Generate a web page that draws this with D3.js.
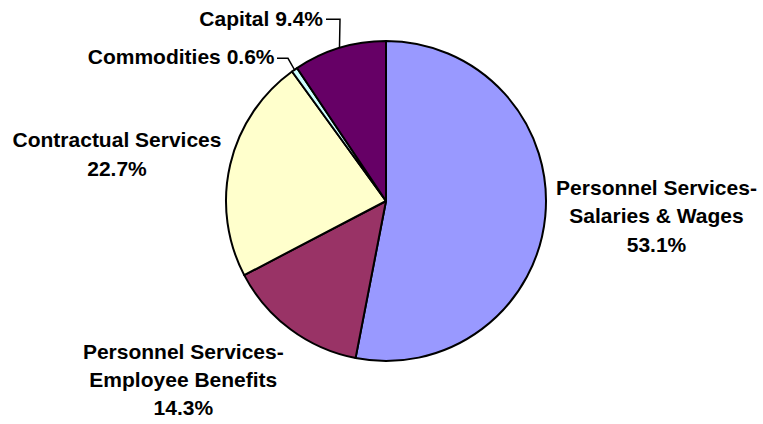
<!DOCTYPE html>
<html>
<head>
<meta charset="utf-8">
<script src="https://cdn.jsdelivr.net/npm/d3@7"></script>
<style>
  html, body { margin: 0; padding: 0; background: #fff; }
  svg { display: block; }
  text { font-family: "Liberation Sans", Arial, sans-serif; font-weight: bold; font-size: 21px; fill: #000; }
</style>
</head>
<body>
<svg id="chart" width="763" height="424"></svg>
<script>
// Budget share by expense category (percent), clockwise from 12 o'clock
const categories = [
  "Personnel Services-Salaries & Wages",
  "Personnel Services-Employee Benefits",
  "Contractual Services",
  "Commodities",
  "Capital"
];
const shares = [53.1, 14.3, 22.7, 0.6, 9.4];
const labelLines = [
  ["Personnel Services-", "Salaries & Wages", "53.1%"],
  ["Personnel Services-", "Employee Benefits", "14.3%"],
  ["Contractual Services", "22.7%"],
  ["Commodities 0.6%"],
  ["Capital 9.4%"]
];
const colors = ["#9999FF", "#993366", "#FFFFCC", "#CCFFFF", "#660066"];

const W = 763, H = 424;
const cx = 386, cy = 201, R = 160;
const lineH = 28.3;

const svg = d3.select("#chart");
const g = svg.append("g").attr("transform", `translate(${cx},${cy})`);

const pie = d3.pie().sort(null).value(d => d);
const arcs = pie(shares);
const arc = d3.arc().innerRadius(0).outerRadius(R);

g.selectAll("path.slice")
  .data(arcs)
  .join("path")
  .attr("class", "slice")
  .attr("d", arc)
  .attr("fill", (d, i) => colors[i])
  .attr("stroke", "#000")
  .attr("stroke-width", 2)
  .attr("stroke-linejoin", "round");

// Label placement (relative to the pie centre): anchor point, text-anchor, first baseline,
// and for the small top slices an elbow for the leader line.
const layout = [
  { x: 270.5, y: -6,    anchor: "middle" },
  { x: -202.7, y: 157.5, anchor: "middle" },
  { x: -269,  y: -53.7, anchor: "middle" },
  { x: -111.5, y: -136.7, anchor: "end", elbow: [-98, -142.7], lineStart: -109 },
  { x: -63,  y: -175,  anchor: "end", elbow: [-46, -181.7], lineStart: -60 }
];

const mid = d => (d.startAngle + d.endAngle) / 2;

arcs.forEach((d, i) => {
  const L = layout[i];
  if (L.elbow) {
    const a = mid(d);
    const ex = Math.sin(a) * R, ey = -Math.cos(a) * R;
    g.append("polyline")
      .attr("points", [[ex, ey], L.elbow, [L.lineStart, L.elbow[1]]].map(p => p.join(",")).join(" "))
      .attr("fill", "none")
      .attr("stroke", "#000")
      .attr("stroke-width", 1.5);
  }
  const t = g.append("text")
    .attr("text-anchor", L.anchor)
    .attr("x", L.x)
    .attr("y", L.y);
  labelLines[i].forEach((s, k) => {
    t.append("tspan").attr("x", L.x).attr("y", L.y + k * lineH).text(s);
  });
});
</script>
</body>
</html>
